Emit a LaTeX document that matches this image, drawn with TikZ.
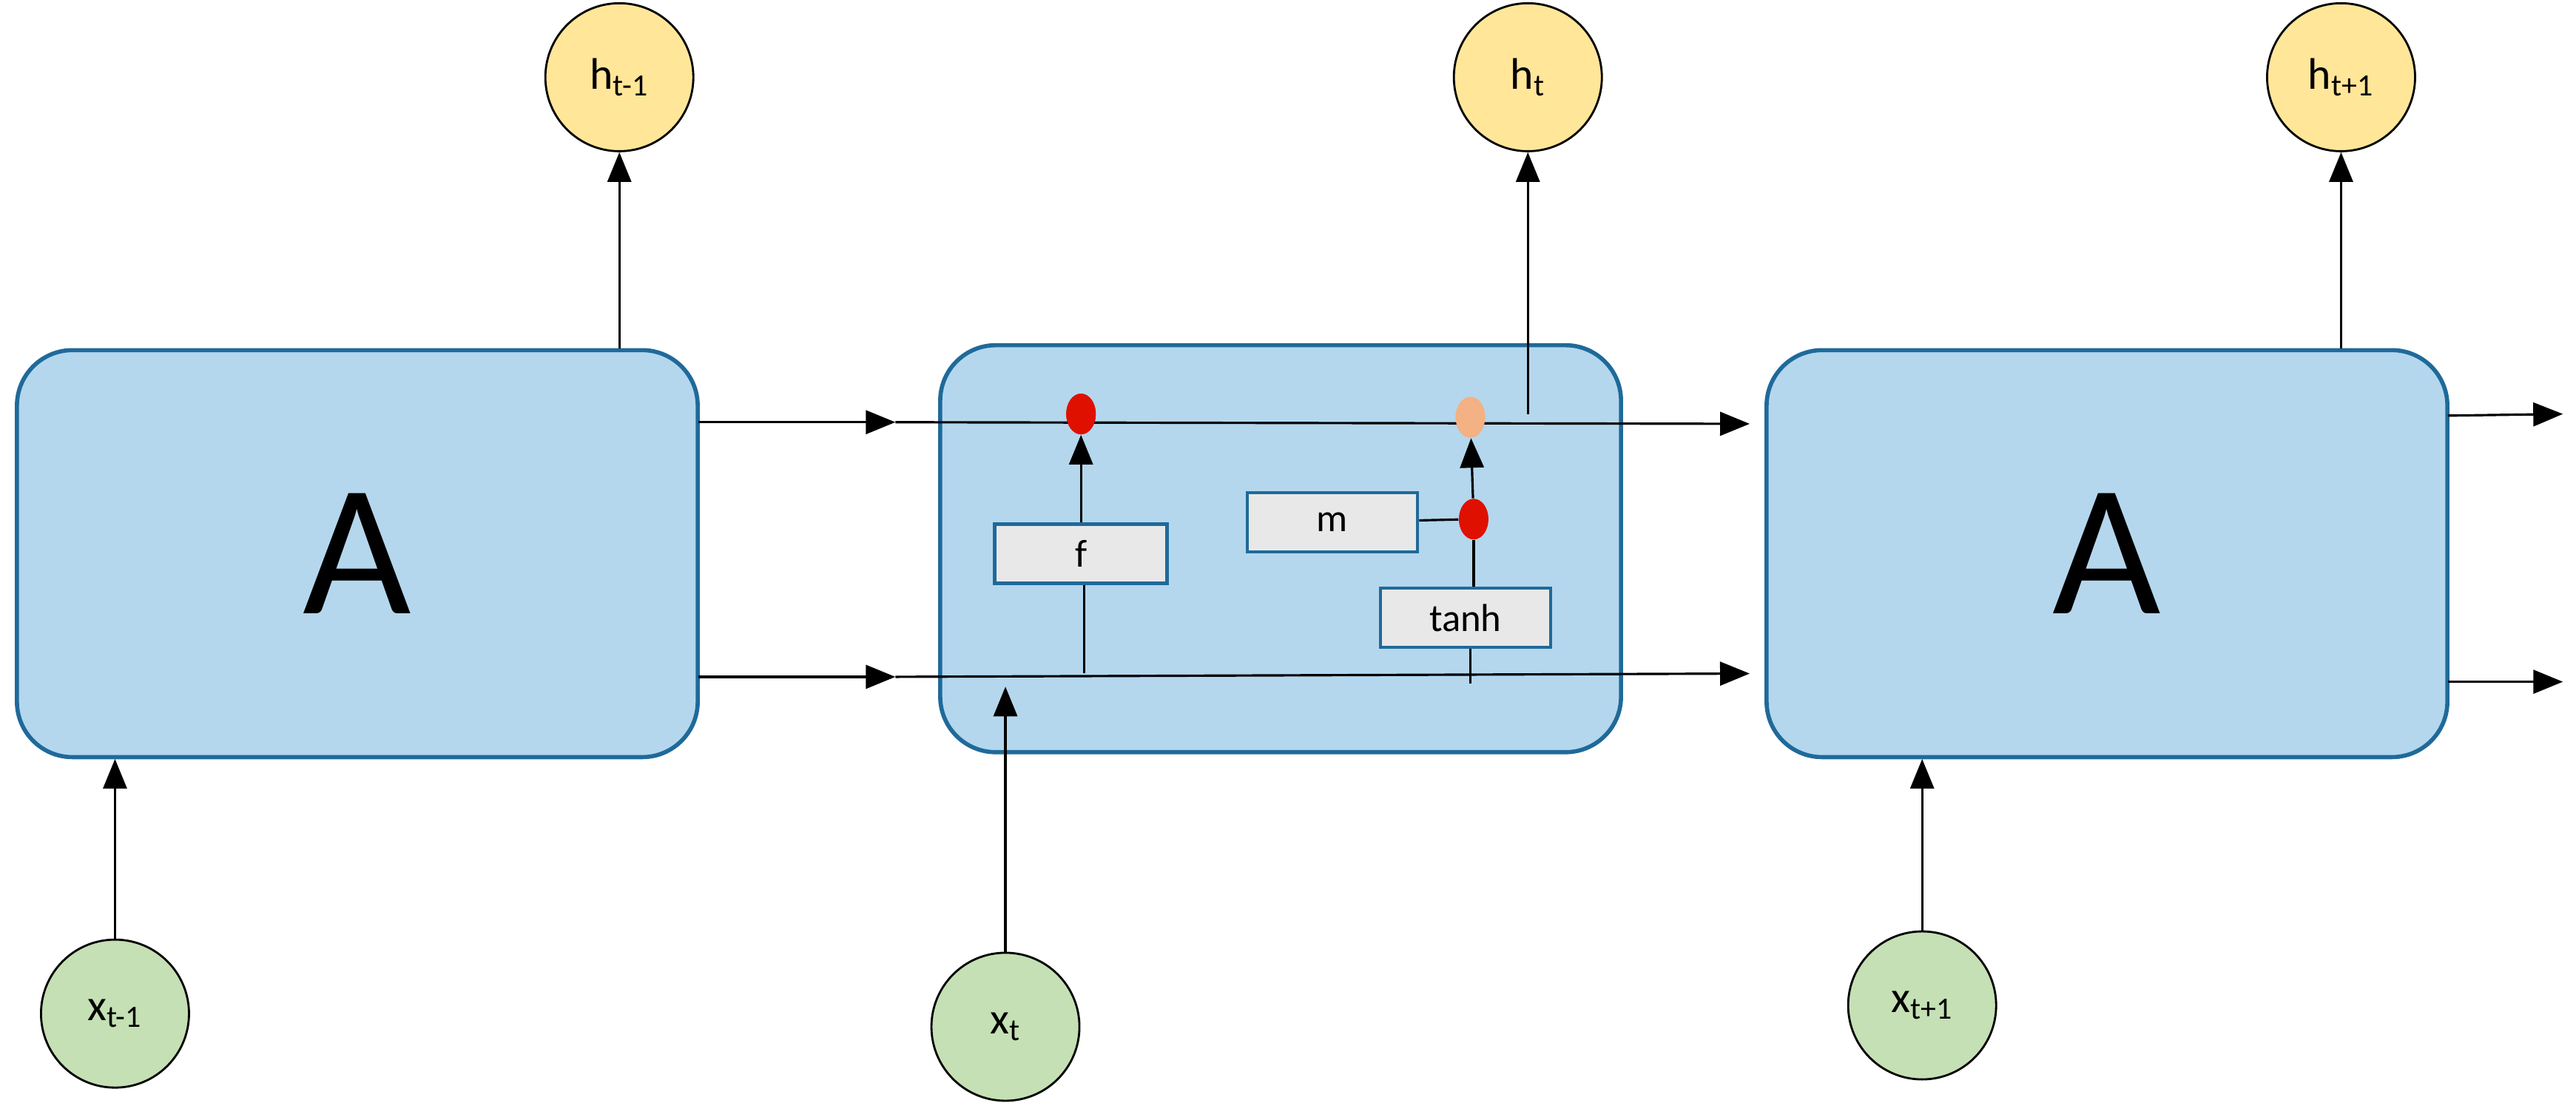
\documentclass[tikz,border=0pt]{standalone}
\usepackage{fontspec}
\setmainfont{Carlito}
\usetikzlibrary{arrows.meta,shapes.geometric}
\definecolor{cellfill}{HTML}{B4D7EE}
\definecolor{cellline}{HTML}{1F6A9A}
\definecolor{hfill}{HTML}{FFE699}
\definecolor{xfill}{HTML}{C5E0B4}
\definecolor{gatefill}{HTML}{E8E8E8}
\definecolor{dotred}{HTML}{E01000}
\definecolor{dotorange}{HTML}{F4B183}
\begin{document}
\begin{tikzpicture}[x=0.0222cm,y=-0.0222cm,
  cell/.style={draw=cellline,fill=cellfill,line width=1.6pt,rounded corners=0.75cm,minimum width=9.2cm,minimum height=5.5cm,font=\fontsize{72}{72}\selectfont},
  hnode/.style={circle,draw,thick,fill=hfill,minimum size=2cm,inner sep=0pt,font=\fontsize{17}{17}\selectfont},
  xnode/.style={circle,draw,thick,fill=xfill,minimum size=2cm,inner sep=0pt,font=\fontsize{17}{17}\selectfont},
  gate/.style={draw=cellline,fill=gatefill,line width=1.3pt,minimum width=2.3cm,minimum height=0.8cm,inner sep=0pt,font=\fontsize{15}{15}\selectfont},
  dot/.style={ellipse,inner sep=0pt,minimum width=0.4cm,minimum height=0.55cm},
  arr/.style={-{Triangle[length=0.4cm,width=0.32cm]},line width=0.9pt},
  ln/.style={line width=0.9pt}]
\useasboundingbox (0,0) rectangle (1568,671);
% cells
\node[cell] (A1) at (217.5,337) {A};
\node[cell] (A2) at (779.5,334) {};
\node[cell] (A3) at (1282.5,337) {A};
% outputs and inputs
\node[hnode] (h1) at (377,47) {h\textsubscript{t-1}};
\node[hnode] (h2) at (930,47) {h\textsubscript{t}};
\node[hnode] (h3) at (1425,47) {h\textsubscript{t+1}};
\node[xnode] (x1) at (70,617) {x\textsubscript{t-1}};
\node[xnode] (x2) at (612,625) {x\textsubscript{t}};
\node[xnode] (x3) at (1170,612) {x\textsubscript{t+1}};
% gates
\node[gate,minimum width=2.33cm] (f) at (658,337) {f};
\node[gate] (m) at (811,318) {m};
\node[gate] (tanh) at (892,376) {tanh};
\node[dot,fill=dotred] (d1) at (658,252) {};
\node[dot,fill=dotorange] (d2) at (895,254) {};
\node[dot,fill=dotred] (d3) at (897,316) {};
% junction points
\coordinate (u1) at (425,257); \coordinate (u2) at (545,257);
\coordinate (u3) at (1065,258);
\coordinate (l1) at (425,412); \coordinate (l2) at (545,412);
\coordinate (l3) at (1065,410);
\coordinate (fb) at (660,410); \coordinate (tb) at (895,416);
\coordinate (ht) at (930,252);
\coordinate (xt) at (612,418);
\coordinate (r1) at (1490,253); \coordinate (r2) at (1560,252);
\coordinate (r3) at (1490,415); \coordinate (r4) at (1560,415);
\coordinate (a1t) at (377,212); \coordinate (a3t) at (1425,212);
\coordinate (a1b) at (70,462); \coordinate (a3b) at (1170,462);
% connectors
\draw[arr] (a1t) -- (h1);
\draw[arr] (a3t) -- (h3);
\draw[arr] (ht) -- (h2);
\draw[arr] (x1) -- (a1b);
\draw[arr] (x3) -- (a3b);
\draw[arr] (x2) -- (xt);
\draw[arr] (u1) -- (u2);
\draw[arr] (l1) -- (l2);
\draw[arr] (u2) -- (u3);
\draw[arr] (l2) -- (l3);
\draw[arr] (r1) -- (r2);
\draw[arr] (r3) -- (r4);
\draw[ln] (fb) -- (f.south -| fb);
\draw[arr] (f.north -| d1) -- (d1);
\draw[ln] (m) -- (d3);
\draw[ln] (tanh.north -| d3) -- (d3);
\draw[arr] (d3) -- (d2);
\draw[ln] (tanh.south -| tb) -- (tb);
\node[dot,fill=dotred] at (d1) {};
\node[dot,fill=dotorange] at (d2) {};
\end{tikzpicture}
\end{document}
